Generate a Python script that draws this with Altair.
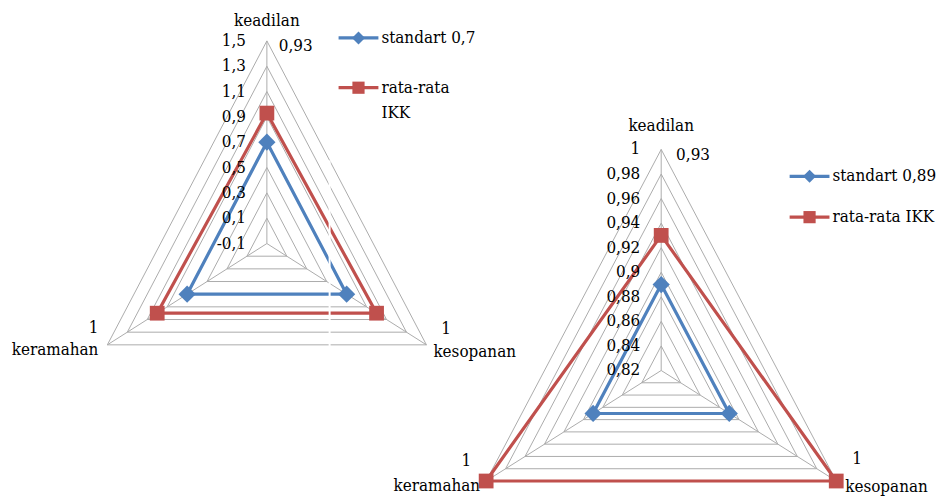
import math
import altair as alt
import pandas as pd

# ---------------- data ----------------
categories = ["keadilan", "kesopanan", "keramahan"]

left_standart = [0.7, 0.7, 0.7]
left_rata = [0.93, 1.0, 1.0]
left_ticks = [-0.1, 0.1, 0.3, 0.5, 0.7, 0.9, 1.1, 1.3, 1.5]
left_tick_labels = ["-0,1", "0,1", "0,3", "0,5", "0,7", "0,9", "1,1", "1,3", "1,5"]
left_legend = [["standart 0,7"], ["rata-rata", "IKK"]]

right_standart = [0.89, 0.89, 0.89]
right_rata = [0.93, 1.0, 1.0]
right_ticks = [0.82, 0.84, 0.86, 0.88, 0.9, 0.92, 0.94, 0.96, 0.98, 1.0]
right_tick_labels = ["0,82", "0,84", "0,86", "0,88", "0,9", "0,92", "0,94", "0,96", "0,98", "1"]
right_legend = [["standart 0,89"], ["rata-rata IKK"]]

rata_labels = ["0,93", "1", "1"]

# ---------------- style ----------------
BLUE = "#4F81BD"
RED = "#C0504D"
GRID = "#ababab"
FONT = "DejaVu Serif Condensed, DejaVu Serif"
FS = 17


def vert(i, r):
    a = i * 2 * math.pi / 3
    return r * math.sin(a), r * math.cos(a)


def panel(P, ticks, tick_labels, standart, rata, legend_lines, leg, cat_off, lab_off, artifact=None):
    W, H, cx, cy, kx, ky = P
    vmin, vmax = ticks[0], ticks[-1]

    def norm(v):
        return (v - vmin) / (vmax - vmin)

    xs = alt.Scale(domain=[-cx / kx, (W - cx) / kx], nice=False, zero=False)
    ys = alt.Scale(domain=[(cy - H) / ky, cy / ky], nice=False, zero=False)
    X = alt.X("x:Q", scale=xs, axis=None)
    Y = alt.Y("y:Q", scale=ys, axis=None)

    layers = []

    # grid rings
    rows = []
    for t in ticks:
        for k in range(4):
            x, y = vert(k % 3, norm(t))
            rows.append(dict(tick=str(t), ord=k, x=x, y=y))
    layers.append(
        alt.Chart(pd.DataFrame(rows)).mark_line(color=GRID, strokeWidth=1)
        .encode(x=X, y=Y, detail="tick:N", order="ord:Q")
    )

    # spokes
    rows = []
    for i in range(3):
        x2, y2 = vert(i, 1.0)
        rows.append(dict(x=0.0, y=0.0, x2=x2, y2=y2))
    layers.append(
        alt.Chart(pd.DataFrame(rows)).mark_rule(color=GRID, strokeWidth=1)
        .encode(x=X, y=Y, x2="x2:Q", y2="y2:Q")
    )

    # series
    for vals, color, shape, size in [(standart, BLUE, "diamond", 300), (rata, RED, "square", 220)]:
        rows = []
        for k in range(4):
            x, y = vert(k % 3, norm(vals[k % 3]))
            rows.append(dict(ord=k, x=x, y=y))
        df = pd.DataFrame(rows)
        layers.append(
            alt.Chart(df).mark_line(color=color, strokeWidth=3.2)
            .encode(x=X, y=Y, order="ord:Q")
        )
        layers.append(
            alt.Chart(df[df.ord < 3]).mark_point(shape=shape, filled=True, size=size, color=color, opacity=1)
            .encode(x=X, y=Y)
        )

    # tick labels
    df = pd.DataFrame(dict(x=[0.0] * len(ticks), y=[norm(t) for t in ticks], label=tick_labels))
    layers.append(
        alt.Chart(df).mark_text(align="right", baseline="middle", dx=-21, font=FONT, fontSize=FS, color="#000")
        .encode(x=X, y=Y, text="label:N")
    )

    # category labels and data labels
    for i in range(3):
        x, y = vert(i, 1.0)
        al, dx, dy = cat_off[i]
        layers.append(
            alt.Chart(pd.DataFrame([dict(x=x, y=y, t=categories[i])]))
            .mark_text(align=al, baseline="middle", dx=dx, dy=dy, font=FONT, fontSize=FS, color="#000")
            .encode(x=X, y=Y, text="t:N")
        )
        al, dx, dy = lab_off[i]
        layers.append(
            alt.Chart(pd.DataFrame([dict(x=x, y=y, t=rata_labels[i])]))
            .mark_text(align=al, baseline="middle", dx=dx, dy=dy, font=FONT, fontSize=FS, color="#000")
            .encode(x=X, y=Y, text="t:N")
        )

    # legend
    lx0, lx1, ly = leg
    one = pd.DataFrame([dict(a=1)])
    for j, (color, shape, size) in enumerate([(BLUE, "diamond", 170), (RED, "square", 150)]):
        yy = ly[j]
        layers.append(
            alt.Chart(one).mark_rule(color=color, strokeWidth=3.2)
            .encode(x=alt.value(lx0), x2=alt.value(lx1), y=alt.value(yy))
        )
        layers.append(
            alt.Chart(one).mark_point(shape=shape, filled=True, size=size, color=color, opacity=1)
            .encode(x=alt.value((lx0 + lx1) / 2), y=alt.value(yy))
        )
        for n, line in enumerate(legend_lines[j]):
            layers.append(
                alt.Chart(one).mark_text(align="left", baseline="middle", font=FONT, fontSize=FS, color="#000")
                .encode(x=alt.value(lx1 + 3), y=alt.value(yy + n * 25), text=alt.value(line))
            )

    if artifact is not None:
        ax, ay0, ay1 = artifact
        layers.append(
            alt.Chart(one).mark_rule(color="white", strokeWidth=2)
            .encode(x=alt.value(ax), y=alt.value(ay0), y2=alt.value(ay1))
        )

    return alt.layer(*layers).properties(width=W, height=H)


left = panel(
    (470, 481, 260, 235.5, 185, 203.5),
    left_ticks, left_tick_labels, left_standart, left_rata, left_legend,
    (332, 372, [29, 79]),
    [("center", 0, -20), ("left", 7, 7), ("right", -9, 5)],
    [("left", 12, 5), ("left", 15, -16), ("right", -9, -17)],
    artifact=(323, 152, 339),
)

right = panel(
    (459, 481, 186, 363, 203, 222),
    right_ticks, right_tick_labels, right_standart, right_rata, right_legend,
    (315, 355, [168, 209]),
    [("center", 0, -24), ("left", 9, 6), ("right", -6, 5)],
    [("left", 15, 6), ("left", 16, -22), ("right", -15, -20)],
)

chart = (
    alt.hconcat(left, right, spacing=0, bounds="flush")
    .properties(padding=0)
    .configure_view(stroke=None)
)

chart.save("out.html", embed_options={"renderer": "svg", "actions": False})
